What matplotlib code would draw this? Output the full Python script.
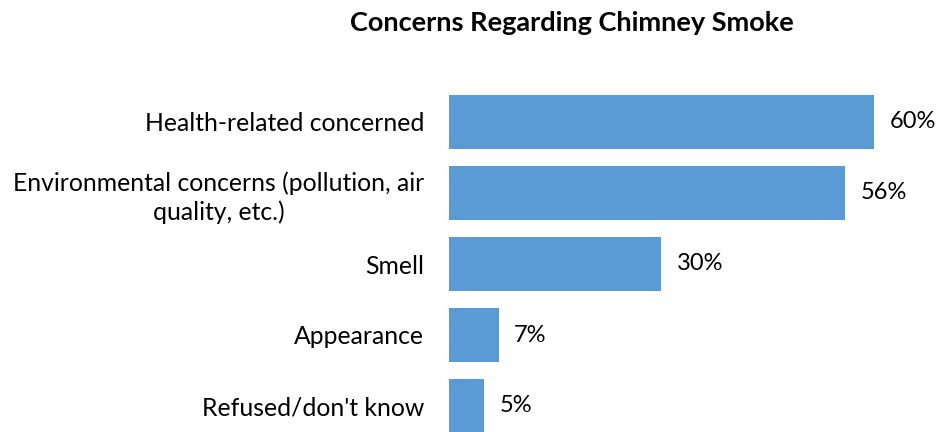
import matplotlib.pyplot as plt

categories = [
    "Health-related concerned",
    "Environmental concerns (pollution, air\nquality, etc.)",
    "Smell",
    "Appearance",
    "Refused/don't know",
]
values = [60, 56, 30, 7, 5]

plt.rcParams['font.family'] = ['Lato', 'DejaVu Sans']

W, H = 937, 432
fig = plt.figure(figsize=(W / 100, H / 100), dpi=100)

# axes laid out in pixels: bars start at x=449, 71 px per category
x0, x1 = 449, 449 + 7.08 * 65
y_top, y_bot = 86.5, 86.5 + 71 * 5
ax = fig.add_axes([x0 / W, 1 - y_bot / H, (x1 - x0) / W, (y_bot - y_top) / H])

pos = range(len(categories))
ax.barh(pos, values, height=0.76, color='#5B9BD5')
ax.set_xlim(0, 65)
ax.set_ylim(len(categories) - 0.5, -0.5)

for p, v in zip(pos, values):
    ax.text(v + 2.2, p, f"{v}%", va='center', ha='left', fontsize=17, color='#000000')

ax.set_yticks(list(pos))
ax.set_yticklabels(categories, fontsize=17.8, linespacing=1.3)
ax.tick_params(axis='y', length=0, pad=18)
ax.set_xticks([])
for s in ax.spines.values():
    s.set_visible(False)

# right edge aligned, wrapped lines centred
for lbl in ax.get_yticklabels():
    lbl.set_horizontalalignment('right')
    lbl.set_multialignment('center')

fig.text(572 / W, 1 - 23 / H, "Concerns Regarding Chimney Smoke", ha='center', va='center',
         fontsize=19.5, fontweight='bold')

fig.savefig('out.png', dpi=100)
